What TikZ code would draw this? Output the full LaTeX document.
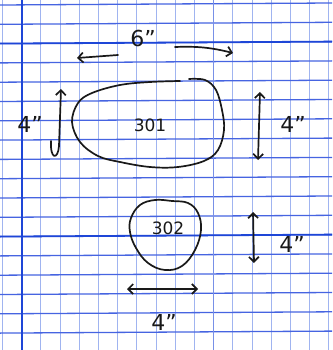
\documentclass[tikz,border=0pt]{standalone}
\usepackage{fontspec}
\setmainfont{DejaVu Sans}
\usetikzlibrary{arrows.meta}
\definecolor{gridv}{RGB}{160,180,240}
\definecolor{gridh}{RGB}{70,100,225}
\definecolor{griddark}{RGB}{30,70,215}
\definecolor{ink}{RGB}{25,25,25}
\tikzset{
  vgrid/.style={gridv, line width=1pt},
  hgrid/.style={gridh, line width=1.3pt},
  bold grid/.style={griddark, line width=1.8pt},
  pen/.style={ink, line width=1.7pt, line cap=round, line join=round},
  dim/.style={pen, {Straight Barb[length=5pt,width=10pt]}-{Straight Barb[length=5pt,width=10pt]}},
  hand/.style={ink, font=\fontsize{22}{22}\selectfont},
  lab/.style={ink, font=\fontsize{17}{17}\selectfont}
}
\begin{document}
\begin{tikzpicture}[x=1pt,y=-1pt]
\useasboundingbox (0,0) rectangle (332,350);
\fill[white] (0,0) rectangle (332,350);
% grid
\foreach \i in {0,...,17} {
  \draw[vgrid] ({2.5+19.2*\i},0) -- ({2.5+19.2*\i},350);
}
\foreach \i in {0,...,17} {
  \draw[hgrid] (0,{5+19.3*\i}) -- (332,{5+19.3*\i-2});
}
\draw[bold grid] (21.7,0) -- (21.7,350);
\draw[vgrid, line width=1.4pt, griddark!60] (213.5,0) -- (213.5,350);
\draw[bold grid] (0,43.6) -- (332,41.6);
\draw[bold grid] (0,236.6) -- (332,234.6);
% blob 301
\draw[pen] plot[smooth, tension=0.6] coordinates {(189,79) (205,80) (216,90) (222,110) (224,130) (218,150) (204,161) (178,167) (150,167) (120,162) (98,156) (80,142) (72,122) (78,103) (92,93) (120,85) (150,82) (180,81)};
\node[lab] (t301) at (150,125) {301};
% 6" arrows
\coordinate (a6l) at (77,58);
\coordinate (a6ls) at (118,55);
\coordinate (a6r) at (233,53);
\coordinate (a6rs) at (175,47);
\draw[pen, -{Straight Barb[length=5pt,width=10pt]}] (a6ls) -- (a6l);
\draw[pen, -{Straight Barb[length=5pt,width=10pt]}] (a6rs) to[bend left=8] (a6r);
\node[hand] (t6) at (143,38) {6"};
% left 4" arrow
\coordinate (lv) at (61,89);
\draw[pen, -{Straight Barb[length=5pt,width=10pt]}] (51,141) .. controls (50,160) and (58,160) .. (59,146) -- (lv);
\node[hand] (t4a) at (30,124) {4"};
% right 4" arrow
\coordinate (rvt) at (260,92);
\coordinate (rvb) at (258,160);
\draw[dim] (rvb) -- (rvt);
\node[hand] (t4b) at (293,124) {4"};
% blob 302
\draw[pen] plot[smooth cycle, tension=0.65] coordinates {(131,218) (140,205) (155,200) (172,201) (188,203) (198,213) (201,230) (195,250) (182,266) (165,270) (148,263) (136,248) (130,232)};
\node[lab] (t302) at (168,228) {302};
% right 4" arrow (302)
\coordinate (r2t) at (253,212);
\coordinate (r2b) at (254,263);
\draw[dim] (r2b) -- (r2t);
\node[hand] (t4c) at (292,244) {4"};
% bottom 4" arrow
\coordinate (b2l) at (127,289);
\coordinate (b2r) at (198,289);
\draw[dim] (b2l) -- (b2r);
\node[hand] (t4d) at (164,322) {4"};
\end{tikzpicture}
\end{document}
